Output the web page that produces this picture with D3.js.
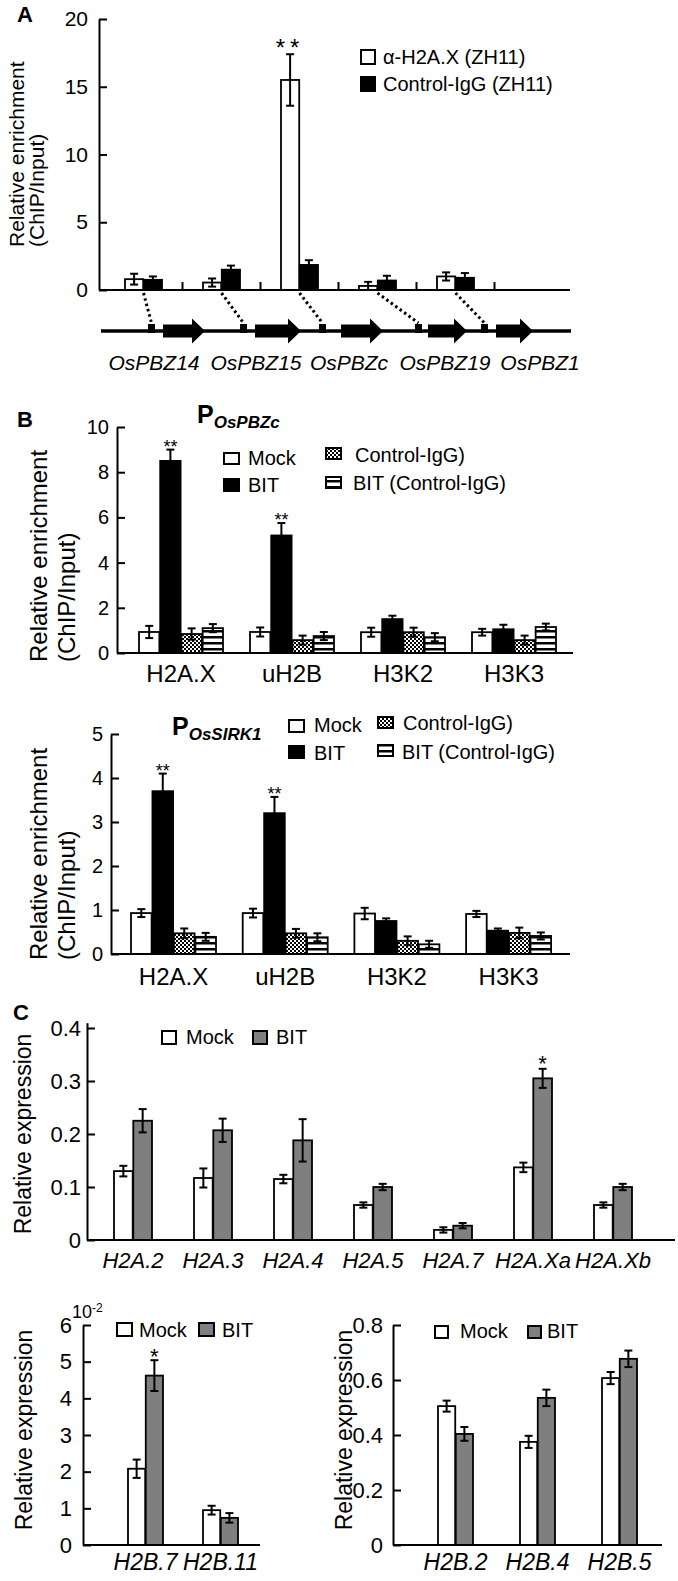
<!DOCTYPE html>
<html>
<head>
<meta charset="utf-8">
<script src="https://cdn.jsdelivr.net/npm/d3@7"></script>
<style>
  body { margin: 0; background: #fff; }
  svg { display: block; font-family: Arial, "Liberation Sans", Helvetica, sans-serif; }
</style>
</head>
<body>
<svg id="fig" width="678" height="1581"></svg>
<script>
// ---- Panel A: ChIP at the OsPBZ promoters ----
const genesA = ["OsPBZ14", "OsPBZ15", "OsPBZc", "OsPBZ19", "OsPBZ1"];
const h2axA = [0.8, 0.55, 15.5, 0.3, 1.0];
const h2axErrA = [0.4, 0.3, 1.9, 0.3, 0.3];
const iggA = [0.75, 1.5, 1.85, 0.7, 0.9];
const iggErrA = [0.25, 0.3, 0.35, 0.35, 0.35];
const sigA = ["", "", "**", "", ""];
const ticksA = [0, 5, 10, 15, 20];
// locus schematic (kb-like units along the chromosome line)
const locusLength = 47;
const promoterStart = [4.7, 13.9, 21.8, 31.4, 38.0];
const geneStart = [6.2, 15.4, 24.0, 32.7, 39.5];
const geneEnd = [10.4, 20.0, 28.2, 36.6, 43.2];
const geneLabelPos = [5.3, 15.5, 24.8, 34.4, 43.9];

// ---- Panel B: histone marks, BIT vs mock ----
const marksB = ["H2A.X", "uH2B", "H3K2", "H3K3"];
const seriesB = ["Mock", "BIT", "Control-IgG)", "BIT (Control-IgG)"];
const pbzcMock = [0.93, 0.93, 0.92, 0.92];
const pbzcMockErr = [0.27, 0.2, 0.2, 0.15];
const pbzcBit = [8.5, 5.2, 1.5, 1.05];
const pbzcBitErr = [0.5, 0.55, 0.15, 0.2];
const pbzcIgg = [0.84, 0.57, 0.92, 0.57];
const pbzcIggErr = [0.25, 0.2, 0.2, 0.2];
const pbzcBitIgg = [1.1, 0.75, 0.7, 1.15];
const pbzcBitIggErr = [0.18, 0.18, 0.18, 0.15];
const pbzcSig = ["**", "**", "", ""];
const ticksB1 = [0, 2, 4, 6, 8, 10];

const sirkMock = [0.93, 0.93, 0.92, 0.91];
const sirkMockErr = [0.09, 0.1, 0.13, 0.07];
const sirkBit = [3.7, 3.2, 0.75, 0.53];
const sirkBitErr = [0.4, 0.37, 0.06, 0.05];
const sirkIgg = [0.47, 0.47, 0.3, 0.48];
const sirkIggErr = [0.11, 0.1, 0.1, 0.12];
const sirkBitIgg = [0.39, 0.38, 0.22, 0.41];
const sirkBitIggErr = [0.09, 0.09, 0.08, 0.08];
const sirkSig = ["**", "**", "", ""];
const ticksB2 = [0, 1, 2, 3, 4, 5];

// ---- Panel C: relative expression ----
const h2aGenes = ["H2A.2", "H2A.3", "H2A.4", "H2A.5", "H2A.7", "H2A.Xa", "H2A.Xb"];
const h2aMock = [0.13, 0.117, 0.115, 0.066, 0.019, 0.137, 0.066];
const h2aMockErr = [0.01, 0.018, 0.008, 0.005, 0.005, 0.009, 0.005];
const h2aBit = [0.225, 0.207, 0.188, 0.1, 0.027, 0.305, 0.1];
const h2aBitErr = [0.022, 0.022, 0.04, 0.006, 0.005, 0.018, 0.006];
const h2aSig = ["", "", "", "", "", "*", ""];
const ticksC1 = [0, 0.1, 0.2, 0.3, 0.4];

const h2bLow = ["H2B.7", "H2B.11"];
const h2bLowMock = [2.08, 0.95];
const h2bLowMockErr = [0.25, 0.12];
const h2bLowBit = [4.62, 0.74];
const h2bLowBitErr = [0.42, 0.13];
const h2bLowSig = ["*", ""];
const ticksC2 = [0, 1, 2, 3, 4, 5, 6];

const h2bHigh = ["H2B.2", "H2B.4", "H2B.5"];
const h2bHighMock = [0.505, 0.375, 0.607];
const h2bHighMockErr = [0.02, 0.022, 0.022];
const h2bHighBit = [0.404, 0.535, 0.677];
const h2bHighBitErr = [0.025, 0.03, 0.03];
const ticksC3 = [0, 0.2, 0.4, 0.6, 0.8];

const svg = d3.select("#fig");
svg.append("rect").attr("width", 678).attr("height", 1581).attr("fill", "#fff");

// fill patterns
const defs = svg.append("defs");
const dots = defs.append("pattern").attr("id", "dots")
  .attr("patternUnits", "userSpaceOnUse").attr("width", 4).attr("height", 4);
dots.append("rect").attr("width", 4).attr("height", 4).attr("fill", "#fff");
dots.append("rect").attr("width", 2).attr("height", 2).attr("fill", "#000");
dots.append("rect").attr("x", 2).attr("y", 2).attr("width", 2).attr("height", 2).attr("fill", "#000");
const stripes = defs.append("pattern").attr("id", "stripes")
  .attr("patternUnits", "userSpaceOnUse").attr("width", 6).attr("height", 6);
stripes.append("rect").attr("width", 6).attr("height", 6).attr("fill", "#fff");
stripes.append("rect").attr("width", 6).attr("height", 2.5).attr("fill", "#000");

const fills = {
  white: "#fff", black: "#000", gray: "#7f7f7f",
  dots: "url(#dots)", stripes: "url(#stripes)"
};

function barChart(cfg) {
  const g = svg.append("g");
  const y = d3.scaleLinear().domain([0, cfg.yMax]).range([cfg.y0, cfg.yTop]);
  const n = cfg.categories.length;
  const x = d3.scaleBand()
    .domain(cfg.categories)
    .range([cfg.x0, cfg.x0 + cfg.step * (n - 1) + cfg.bw])
    .paddingInner(1 - cfg.bw / cfg.step)
    .paddingOuter(0);
  const xs = d3.scaleBand()
    .domain(cfg.series.map((s) => s.name))
    .range([0, x.bandwidth()])
    .paddingInner(cfg.gap || 0);

  const rows = cfg.series.flatMap((s) =>
    cfg.categories.map((c, i) => ({
      c, s: s.name, fill: s.fill, v: s.values[i], e: s.errors[i],
      sig: s.sig ? s.sig[i] : ""
    }))
  );
  const cx = (d) => x(d.c) + xs(d.s) + xs.bandwidth() / 2;

  g.append("g").selectAll("rect").data(rows).join("rect")
    .attr("x", (d) => x(d.c) + xs(d.s))
    .attr("y", (d) => y(d.v))
    .attr("width", xs.bandwidth())
    .attr("height", (d) => y(0) - y(d.v))
    .attr("fill", (d) => fills[d.fill])
    .attr("stroke", "#000")
    .attr("stroke-width", 1.8);

  const err = g.append("g").attr("stroke", "#000").attr("stroke-width", 2);
  err.selectAll("line.v").data(rows).join("line").attr("class", "v")
    .attr("x1", cx).attr("x2", cx)
    .attr("y1", (d) => y(Math.max(0, d.v - d.e))).attr("y2", (d) => y(d.v + d.e));
  err.selectAll("line.t").data(rows).join("line").attr("class", "t")
    .attr("x1", (d) => cx(d) - 4).attr("x2", (d) => cx(d) + 4)
    .attr("y1", (d) => y(d.v + d.e)).attr("y2", (d) => y(d.v + d.e));
  err.selectAll("line.b").data(rows).join("line").attr("class", "b")
    .attr("x1", (d) => cx(d) - 4).attr("x2", (d) => cx(d) + 4)
    .attr("y1", (d) => y(Math.max(0, d.v - d.e))).attr("y2", (d) => y(Math.max(0, d.v - d.e)));

  g.append("g").selectAll("text").data(rows.filter((d) => d.sig)).join("text")
    .attr("x", cx)
    .attr("y", (d) => y(d.v + d.e) + cfg.starDy)
    .attr("text-anchor", "middle")
    .attr("font-size", cfg.starFont)
    .attr("letter-spacing", cfg.starSpacing || 0)
    .text((d) => d.sig);

  // y axis, ticks pointing inward
  g.append("g")
    .attr("transform", `translate(${cfg.axisX},0)`)
    .call(d3.axisLeft(y).tickValues(cfg.ticks).tickFormat(cfg.tickFormat || ((d) => d))
      .tickSize(-8).tickSizeOuter(0).tickPadding(cfg.tickPad))
    .call((a) => {
      a.attr("font-family", null).attr("font-size", cfg.tickFont);
      a.select(".domain").attr("stroke-width", 2);
      a.selectAll(".tick line").attr("stroke-width", 2);
      a.selectAll(".tick text").attr("fill", "#000");
    });

  // x baseline
  g.append("line")
    .attr("x1", cfg.axisX).attr("x2", cfg.xEnd)
    .attr("y1", y(0)).attr("y2", y(0))
    .attr("stroke", "#000").attr("stroke-width", 2.2);

  if (cfg.sepTicks) {
    g.append("g").selectAll("line").data(cfg.categories).join("line")
      .attr("x1", (c) => x(c) + x.bandwidth() + (x.step() - x.bandwidth()) / 2)
      .attr("x2", (c) => x(c) + x.bandwidth() + (x.step() - x.bandwidth()) / 2)
      .attr("y1", y(0)).attr("y2", y(0) - 8)
      .attr("stroke", "#000").attr("stroke-width", 2);
  }

  if (cfg.labelY) {
    g.append("g").selectAll("text").data(cfg.categories).join("text")
      .attr("x", (c) => x(c) + x.bandwidth() / 2)
      .attr("y", cfg.labelY)
      .attr("text-anchor", "middle")
      .attr("font-size", cfg.labelFont)
      .attr("font-style", cfg.italic ? "italic" : null)
      .text((c) => c);
  }

  // rotated axis title; multi-line titles start from a common bottom edge
  const t = g.append("text")
    .attr("transform", `translate(0,${cfg.titleY}) rotate(-90)`)
    .attr("text-anchor", cfg.titleAnchor || "middle")
    .attr("font-size", cfg.titleFont);
  cfg.title.forEach((line, i) => {
    t.append("tspan").attr("x", 0).attr("y", cfg.titleX[i]).text(line);
  });

  return { x, xs, y, g };
}

function legend(items) {
  const g = svg.append("g");
  items.forEach((it) => {
    g.append("rect")
      .attr("x", it.sx).attr("y", it.sy).attr("width", it.w).attr("height", it.h)
      .attr("fill", fills[it.fill]).attr("stroke", "#000").attr("stroke-width", 2);
    g.append("text").attr("x", it.tx).attr("y", it.ty)
      .attr("font-size", it.font).text(it.label);
  });
}

function panelLetter(letter, px, py) {
  svg.append("text").attr("x", px).attr("y", py)
    .attr("font-size", 22).attr("font-weight", "bold").text(letter);
}

// ================= Panel A =================
panelLetter("A", 17, 22);
const chartA = barChart({
  categories: genesA,
  series: [
    { name: "α-H2A.X (ZH11)", values: h2axA, errors: h2axErrA, fill: "white", sig: sigA },
    { name: "Control-IgG (ZH11)", values: iggA, errors: iggErrA, fill: "black" }
  ],
  yMax: 20, y0: 290, yTop: 19, axisX: 99, xEnd: 570,
  x0: 125, step: 78, bw: 37, gap: 0.03,
  ticks: ticksA, tickFont: 21, tickPad: 11,
  starDy: 2, starFont: 24, starSpacing: 5,
  sepTicks: true,
  title: ["Relative enrichment", "(ChIP/Input)"], titleX: [24, 44], titleY: 247,
  titleAnchor: "start", titleFont: 21
});
legend([
  { sx: 361, sy: 50, w: 14, h: 14, fill: "white", tx: 383, ty: 64, font: 20, label: "α-H2A.X (ZH11)" },
  { sx: 361, sy: 77, w: 14, h: 14, fill: "black", tx: 383, ty: 91, font: 20, label: "Control-IgG (ZH11)" }
]);

// locus schematic under panel A
const locus = d3.scaleLinear().domain([0, locusLength]).range([101, 571]);
const lineY = 331;
const gl = svg.append("g");
gl.append("line").attr("x1", locus(0)).attr("x2", locus(locusLength))
  .attr("y1", lineY).attr("y2", lineY).attr("stroke", "#000").attr("stroke-width", 3.5);
gl.selectAll("rect.prom").data(promoterStart).join("rect").attr("class", "prom")
  .attr("x", (d) => locus(d)).attr("y", lineY - 7)
  .attr("width", locus(0.7) - locus(0)).attr("height", 9).attr("fill", "#000");
gl.selectAll("path.gene").data(genesA).join("path").attr("class", "gene")
  .attr("d", (d, i) => {
    const a = locus(geneStart[i]), b = locus(geneEnd[i]), h = b - 13;
    return `M${a},${lineY - 6.5}H${h}V${lineY - 12.5}L${b},${lineY}L${h},${lineY + 12.5}V${lineY + 6.5}H${a}Z`;
  })
  .attr("fill", "#000");
gl.selectAll("text").data(genesA).join("text")
  .attr("x", (d, i) => locus(geneLabelPos[i]))
  .attr("y", 370).attr("text-anchor", "middle")
  .attr("font-size", 21).attr("font-style", "italic").text((d) => d);
// dotted connectors from each bar pair to its promoter
gl.selectAll("line.conn").data(genesA).join("line").attr("class", "conn")
  .attr("x1", (d) => chartA.x(d) + chartA.x.bandwidth() / 2)
  .attr("y1", chartA.y(0) + 3)
  .attr("x2", (d, i) => locus(promoterStart[i] + 0.35))
  .attr("y2", lineY - 8)
  .attr("stroke", "#000").attr("stroke-width", 3).attr("stroke-dasharray", "2.5,3");

// ================= Panel B =================
panelLetter("B", 17, 427);

function pTitle(px, py, sub) {
  const t = svg.append("text").attr("x", px).attr("y", py).attr("font-weight", "bold");
  t.append("tspan").attr("font-size", 25).text("P");
  t.append("tspan").attr("font-size", 17).attr("font-style", "italic").attr("dy", 5).text(sub);
}

barChart({
  categories: marksB,
  series: [
    { name: seriesB[0], values: pbzcMock, errors: pbzcMockErr, fill: "white" },
    { name: seriesB[1], values: pbzcBit, errors: pbzcBitErr, fill: "black", sig: pbzcSig },
    { name: seriesB[2], values: pbzcIgg, errors: pbzcIggErr, fill: "dots" },
    { name: seriesB[3], values: pbzcBitIgg, errors: pbzcBitIggErr, fill: "stripes" }
  ],
  yMax: 10, y0: 653, yTop: 427, axisX: 117, xEnd: 573,
  x0: 139, step: 111, bw: 84, gap: 0.04,
  ticks: ticksB1, tickFont: 20, tickPad: 8,
  starDy: 3, starFont: 18,
  labelY: 682, labelFont: 24,
  title: ["Relative enrichment", "(ChIP/Input)"], titleX: [47, 75], titleY: 662,
  titleAnchor: "start", titleFont: 24
});
pTitle(197, 423, "OsPBZc");
legend([
  { sx: 224, sy: 453, w: 15, h: 11, fill: "white", tx: 248, ty: 465, font: 20, label: seriesB[0] },
  { sx: 224, sy: 479, w: 15, h: 12, fill: "black", tx: 248, ty: 492, font: 20, label: seriesB[1] },
  { sx: 326, sy: 448, w: 15, h: 11, fill: "dots", tx: 355, ty: 462, font: 20, label: seriesB[2] },
  { sx: 326, sy: 477, w: 15, h: 11, fill: "stripes", tx: 353, ty: 490, font: 20, label: seriesB[3] }
]);

barChart({
  categories: marksB,
  series: [
    { name: seriesB[0], values: sirkMock, errors: sirkMockErr, fill: "white" },
    { name: seriesB[1], values: sirkBit, errors: sirkBitErr, fill: "black", sig: sirkSig },
    { name: seriesB[2], values: sirkIgg, errors: sirkIggErr, fill: "dots" },
    { name: seriesB[3], values: sirkBitIgg, errors: sirkBitIggErr, fill: "stripes" }
  ],
  yMax: 5, y0: 954, yTop: 734, axisX: 111, xEnd: 570,
  x0: 131, step: 111.7, bw: 85, gap: 0.04,
  ticks: ticksB2, tickFont: 20, tickPad: 8,
  starDy: 3, starFont: 18,
  labelY: 985, labelFont: 24,
  title: ["Relative enrichment", "(ChIP/Input)"], titleX: [47, 75], titleY: 960,
  titleAnchor: "start", titleFont: 24
});
pTitle(172, 735, "OsSIRK1");
legend([
  { sx: 289, sy: 720, w: 15, h: 12, fill: "white", tx: 314, ty: 732, font: 20, label: seriesB[0] },
  { sx: 289, sy: 746, w: 15, h: 12, fill: "black", tx: 314, ty: 760, font: 20, label: seriesB[1] },
  { sx: 378, sy: 717, w: 15, h: 11, fill: "dots", tx: 403, ty: 730, font: 20, label: seriesB[2] },
  { sx: 378, sy: 745, w: 15, h: 11, fill: "stripes", tx: 402, ty: 759, font: 20, label: seriesB[3] }
]);

// ================= Panel C =================
panelLetter("C", 13, 1020);

barChart({
  categories: h2aGenes,
  series: [
    { name: "Mock", values: h2aMock, errors: h2aMockErr, fill: "white" },
    { name: "BIT", values: h2aBit, errors: h2aBitErr, fill: "gray", sig: h2aSig }
  ],
  yMax: 0.41, y0: 1240, yTop: 1240 - 0.41 * 530, axisX: 87, xEnd: 675,
  x0: 114, step: 80, bw: 38, gap: 0.03,
  ticks: ticksC1, tickFormat: (d) => (d === 0 ? "0" : d3.format(".1f")(d)), tickFont: 22, tickPad: 6,
  starDy: 2, starFont: 22,
  labelY: 1268, labelFont: 22, italic: true,
  title: ["Relative expression"], titleX: [31], titleY: 1134, titleFont: 23
});
legend([
  { sx: 162, sy: 1031, w: 14, h: 13, fill: "white", tx: 186, ty: 1044, font: 20, label: "Mock" },
  { sx: 253, sy: 1031, w: 14, h: 13, fill: "gray", tx: 276, ty: 1044, font: 20, label: "BIT" }
]);

barChart({
  categories: h2bLow,
  series: [
    { name: "Mock", values: h2bLowMock, errors: h2bLowMockErr, fill: "white" },
    { name: "BIT", values: h2bLowBit, errors: h2bLowBitErr, fill: "gray", sig: h2bLowSig }
  ],
  yMax: 6, y0: 1545, yTop: 1325, axisX: 83, xEnd: 260,
  x0: 128, step: 75, bw: 35, gap: 0.03,
  ticks: ticksC2, tickFont: 22, tickPad: 11,
  starDy: 4, starFont: 22,
  labelY: 1570, labelFont: 23, italic: true,
  title: ["Relative expression"], titleX: [32], titleY: 1430, titleFont: 23
});
const exp = svg.append("text").attr("x", 72).attr("y", 1318).attr("font-size", 18);
exp.append("tspan").text("10");
exp.append("tspan").attr("font-size", 12).attr("dy", -6).text("-2");
legend([
  { sx: 117, sy: 1323, w: 15, h: 13, fill: "white", tx: 139, ty: 1337, font: 20, label: "Mock" },
  { sx: 199, sy: 1323, w: 15, h: 13, fill: "gray", tx: 222, ty: 1337, font: 20, label: "BIT" }
]);

barChart({
  categories: h2bHigh,
  series: [
    { name: "Mock", values: h2bHighMock, errors: h2bHighMockErr, fill: "white" },
    { name: "BIT", values: h2bHighBit, errors: h2bHighBitErr, fill: "gray" }
  ],
  yMax: 0.8, y0: 1545, yTop: 1325, axisX: 393, xEnd: 662,
  x0: 438, step: 82, bw: 35, gap: 0.03,
  ticks: ticksC3, tickFormat: (d) => (d === 0 ? "0" : d3.format(".1f")(d)), tickFont: 22, tickPad: 10,
  starDy: 4, starFont: 22,
  labelY: 1570, labelFont: 23, italic: true,
  title: ["Relative expression"], titleX: [352], titleY: 1430, titleFont: 23
});
legend([
  { sx: 435, sy: 1326, w: 13, h: 12, fill: "white", tx: 460, ty: 1338, font: 20, label: "Mock" },
  { sx: 528, sy: 1326, w: 13, h: 12, fill: "gray", tx: 547, ty: 1338, font: 20, label: "BIT" }
]);
</script>
</body>
</html>
